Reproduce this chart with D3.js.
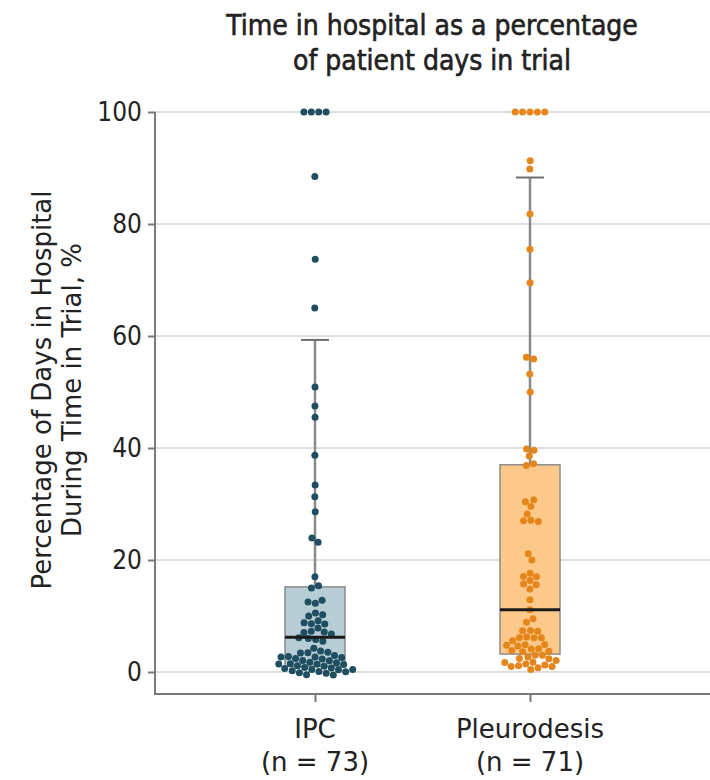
<!DOCTYPE html>
<html>
<head>
<meta charset="utf-8">
<script src="https://cdn.jsdelivr.net/npm/d3@7"></script>
<style>
  html, body { margin: 0; padding: 0; background: #fff; }
  svg text { font-family: "DejaVu Sans", sans-serif; fill: #222; }
</style>
</head>
<body>
<div id="chart"></div>
<script>
// categories and read-off values
const categories = ["IPC", "Pleurodesis"];
const nLabels = ["(n = 73)", "(n = 71)"];
const yTicks = [0, 20, 40, 60, 80, 100];

const ipcValues = [
  100, 100, 100, 100, 88.5, 73.7, 65.0, 50.9, 47.5, 45.5, 38.7, 33.4, 31.3, 28.6, 23.9, 23.2, 17.0, 15.4, 15.0,
  12.8, 12.5, 12.3, 10.5, 10.2, 10.0, 9.0, 8.8, 8.6, 8.5, 7.8, 7.5, 7.2, 7.0, 6.8, 6.2, 6.0, 5.8, 5.5,
  4.0, 3.8, 3.6, 3.5, 3.3, 2.8, 2.6, 2.5, 2.4, 2.2, 2.0, 2.0, 1.8,
  1.5, 1.4, 1.3, 1.2, 1.2, 1.1, 1.0, 1.0, 0.9, 0.9, 0.8, 0.8, 0.7, 0.7, 0.6, 0.6, 0.5, 0.5, 0.4, 0.3, 0.3, 0.2
];
const pleurodesisValues = [
  100, 100, 100, 100, 100, 91.3, 89.8, 81.8, 75.5, 69.5, 56.2, 55.9, 53.2, 50.0, 39.8, 39.6, 38.6, 37.2, 36.9,
  30.7, 30.4, 29.6, 28.2, 27.1, 27.0, 26.9, 21.1, 20.0,
  17.5, 17.0, 17.0, 16.4, 15.8, 15.6, 14.8, 12.9, 11.1, 9.5, 8.9, 7.4, 7.3, 7.2, 6.3, 6.2, 6.1, 6.0,
  5.4, 5.0, 4.8, 4.6, 4.4, 4.2, 4.0, 3.8, 3.6, 3.4, 3.2, 3.0, 2.8, 2.6, 2.4, 2.1,
  1.6, 1.4, 1.3, 1.2, 1.2, 1.1, 1.1, 1.0, 1.0
];

// box stats: q1, median, q3, upper whisker
const q1 = [1.0, 3.2];
const medians = [6.2, 11.1];
const q3 = [15.2, 37.0];
const whiskerHigh = [59.3, 88.3];

const width = 710, height = 780;
const margin = { top: 112, right: 0, bottom: 86, left: 155 };
const dotColors = ["#1e4e5f", "#e5861b"];
const boxFills = ["#b7cdd6", "#fdc98b"];

const svg = d3.select("#chart").append("svg")
  .attr("width", width)
  .attr("height", height);

const y = d3.scaleLinear().domain([0, 100]).range([672, 112]);
const x = d3.scalePoint().domain(categories).range([315, 530]);

// gridlines
svg.append("g")
  .selectAll("line")
  .data(yTicks)
  .enter()
  .append("line")
  .attr("x1", margin.left)
  .attr("x2", width)
  .attr("y1", d => y(d))
  .attr("y2", d => y(d))
  .attr("stroke", "#dedede")
  .attr("stroke-width", 2);

// y axis
const yAxis = svg.append("g")
  .attr("transform", `translate(${margin.left},0)`)
  .call(d3.axisLeft(y).tickValues(yTicks).tickSize(7).tickPadding(6));
yAxis.select(".domain").remove();
yAxis.selectAll(".tick line").attr("stroke", "#777").attr("stroke-width", 2);
yAxis.selectAll(".tick text")
  .style("font-family", "'DejaVu Sans', sans-serif")
  .style("font-stretch", "condensed")
  .style("font-size", "26px")
  .attr("fill", "#222");

// x axis
const xAxis = svg.append("g")
  .attr("transform", `translate(0,694)`)
  .call(d3.axisBottom(x).tickSize(8).tickFormat(""));
xAxis.select(".domain").remove();
xAxis.selectAll(".tick line").attr("stroke", "#777").attr("stroke-width", 2);

// axis lines
svg.append("path")
  .attr("d", `M${margin.left},${y(100)}V694H${width}`)
  .attr("fill", "none")
  .attr("stroke", "#7a7a7a")
  .attr("stroke-width", 2);

// x labels
categories.forEach((c, i) => {
  const t = svg.append("text")
    .attr("x", x(c))
    .attr("text-anchor", "middle")
    .style("font-size", "26px");
  t.append("tspan").attr("x", x(c)).attr("y", 738).text(c);
  t.append("tspan").attr("x", x(c)).attr("y", 771).text(nLabels[i]);
});

// boxes and whiskers
const boxW = 60, capW = 28;
categories.forEach((c, i) => {
  const cx = x(c);
  svg.append("line")
    .attr("x1", cx).attr("x2", cx)
    .attr("y1", y(q3[i])).attr("y2", y(whiskerHigh[i]))
    .attr("stroke", "#8a8a8a").attr("stroke-width", 2.5);
  svg.append("line")
    .attr("x1", cx - capW / 2).attr("x2", cx + capW / 2)
    .attr("y1", y(whiskerHigh[i])).attr("y2", y(whiskerHigh[i]))
    .attr("stroke", "#6f6f6f").attr("stroke-width", 2);
  svg.append("rect")
    .attr("x", cx - boxW / 2)
    .attr("y", y(q3[i]))
    .attr("width", boxW)
    .attr("height", y(q1[i]) - y(q3[i]))
    .attr("fill", boxFills[i])
    .attr("stroke", "#8c8c8c")
    .attr("stroke-width", 1.5);
});

// beeswarm points
const r = 3.5;
[ipcValues, pleurodesisValues].forEach((vals, i) => {
  const cx = x(categories[i]);
  const nodes = vals.map((v, k) => ({
    v: v,
    x: cx + (k % 2 ? 1 : -1) * (k % 7) * 0.3,
    y: y(v)
  }));
  const sim = d3.forceSimulation(nodes)
    .force("x", d3.forceX(cx).strength(0.03))
    .force("y", d3.forceY(d => y(d.v)).strength(1))
    .force("collide", d3.forceCollide(r + 0.2).iterations(4))
    .stop();
  for (let t = 0; t < 400; t++) sim.tick();

  svg.append("g")
    .selectAll("circle")
    .data(nodes)
    .enter()
    .append("circle")
    .attr("cx", d => d.x)
    .attr("cy", d => d.y)
    .attr("r", r)
    .attr("fill", dotColors[i]);
});

// median lines
categories.forEach((c, i) => {
  svg.append("line")
    .attr("x1", x(c) - boxW / 2).attr("x2", x(c) + boxW / 2)
    .attr("y1", y(medians[i])).attr("y2", y(medians[i]))
    .attr("stroke", "#1a1a1a").attr("stroke-width", 3);
});

// title
const title = svg.append("text")
  .attr("text-anchor", "middle")
  .style("font-size", "28px")
  .style("font-stretch", "condensed")
  .attr("stroke", "#222")
  .attr("stroke-width", 0.6);
title.append("tspan").attr("x", 432).attr("y", 35).text("Time in hospital as a percentage");
title.append("tspan").attr("x", 432).attr("y", 70).text("of patient days in trial");

// y axis label
const yl = svg.append("text")
  .attr("transform", "translate(0,390) rotate(-90)")
  .attr("text-anchor", "middle")
  .style("font-size", "26px");
yl.append("tspan").attr("x", 0).attr("y", 51).text("Percentage of Days in Hospital");
yl.append("tspan").attr("x", 0).attr("y", 81).text("During Time in Trial, %");
</script>
</body>
</html>
